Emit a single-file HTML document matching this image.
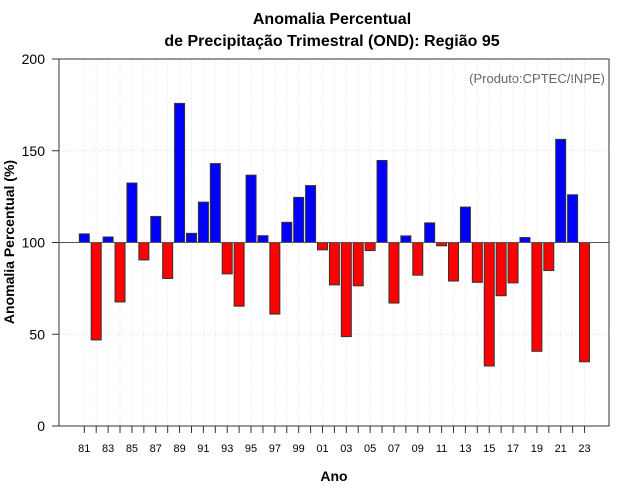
<!DOCTYPE html>
<html><head><meta charset="utf-8"><style>
body{margin:0;background:#fff;}
svg{display:block;font-family:"Liberation Sans",sans-serif;}
</style></head><body>
<svg id="chart" width="640" height="500" viewBox="0 0 640 500">
<text x="332" y="24" text-anchor="middle" font-size="16" font-weight="bold">Anomalia Percentual</text>
<text x="332" y="46" text-anchor="middle" font-size="16" font-weight="bold">de Precipitação Trimestral (OND): Região 95</text>
<text x="605" y="83" text-anchor="end" font-size="13" fill="#666">(Produto:CPTEC/INPE)</text>
<text x="334" y="481" text-anchor="middle" font-size="14" font-weight="bold">Ano</text>
<text transform="translate(14,242) rotate(-90)" text-anchor="middle" font-size="14" font-weight="bold">Anomalia Percentual (%)</text>
<g id="grid"></g><g id="bars"></g><g id="axes"></g>
</svg>
<script>
const years = [81,82,83,84,85,86,87,88,89,90,91,92,93,94,95,96,97,98,99,0,1,2,3,4,5,6,7,8,9,10,11,12,13,14,15,16,17,18,19,20,21,22,23];
const values = [104.7,46.9,103,67.6,132.4,90.5,114.2,80.4,175.8,105,122,143,82.9,65.3,136.7,103.7,61,111,124.6,131,96,76.9,48.7,76.4,95.6,144.7,67,103.6,82.2,110.7,98.2,79,119.3,78.3,32.7,71,78,102.7,40.7,84.7,156.2,126,35];
const yTicks = [0,50,100,150,200];
const NS="http://www.w3.org/2000/svg";
const L=59,R=609,T=59,B=426;
const x0=84.3, step=11.91;
function xs(i){return x0+i*step;}
function ys(v){return B-(v/200)*(B-T);}
function mk(tag,attrs,parent){const e=document.createElementNS(NS,tag);for(const k in attrs)e.setAttribute(k,attrs[k]);parent.appendChild(e);return e;}
const grid=document.getElementById('grid'),bars=document.getElementById('bars'),axes=document.getElementById('axes');
yTicks.forEach(v=>{if(v>0&&v<200){const g=mk('line',{x1:L,x2:R,y1:ys(v),y2:ys(v),stroke:'#ddd','stroke-dasharray':'1,2'},grid);

}});
years.forEach((y,i)=>{const g=mk('line',{x1:xs(i),x2:xs(i),y1:T,y2:B,stroke:'#e2e2e2','stroke-dasharray':'1,2'},grid);

});
years.forEach((y,i)=>{const v=values[i];const top=ys(Math.max(v,100)),bot=ys(Math.min(v,100));
const r=mk('rect',{x:xs(i)-5,y:top,width:10,height:Math.max(bot-top,0.5),fill:v>=100?'#0000ff':'#ff0000',stroke:'#333','stroke-width':1},bars);

});
const base=mk('line',{x1:L,x2:R,y1:ys(100),y2:ys(100),stroke:'#555'},axes);


const frame=mk('rect',{x:L,y:T,width:R-L,height:B-T,fill:'none',stroke:'#333'},axes);


yTicks.forEach(v=>{mk('line',{x1:L-7,x2:L,y1:ys(v),y2:ys(v),stroke:'#333'},axes);
const t=mk('text',{x:L-14,y:ys(v)+5,'text-anchor':'end','font-size':14},axes);t.textContent=v;

});
years.forEach((y,i)=>{mk('line',{x1:xs(i),x2:xs(i),y1:B,y2:B+7,stroke:'#333'},axes);
if(i%2===0){const t=mk('text',{x:xs(i),y:452,'text-anchor':'middle','font-size':11},axes);t.textContent=String(y).padStart(2,'0');

}});
</script>
</body></html>
